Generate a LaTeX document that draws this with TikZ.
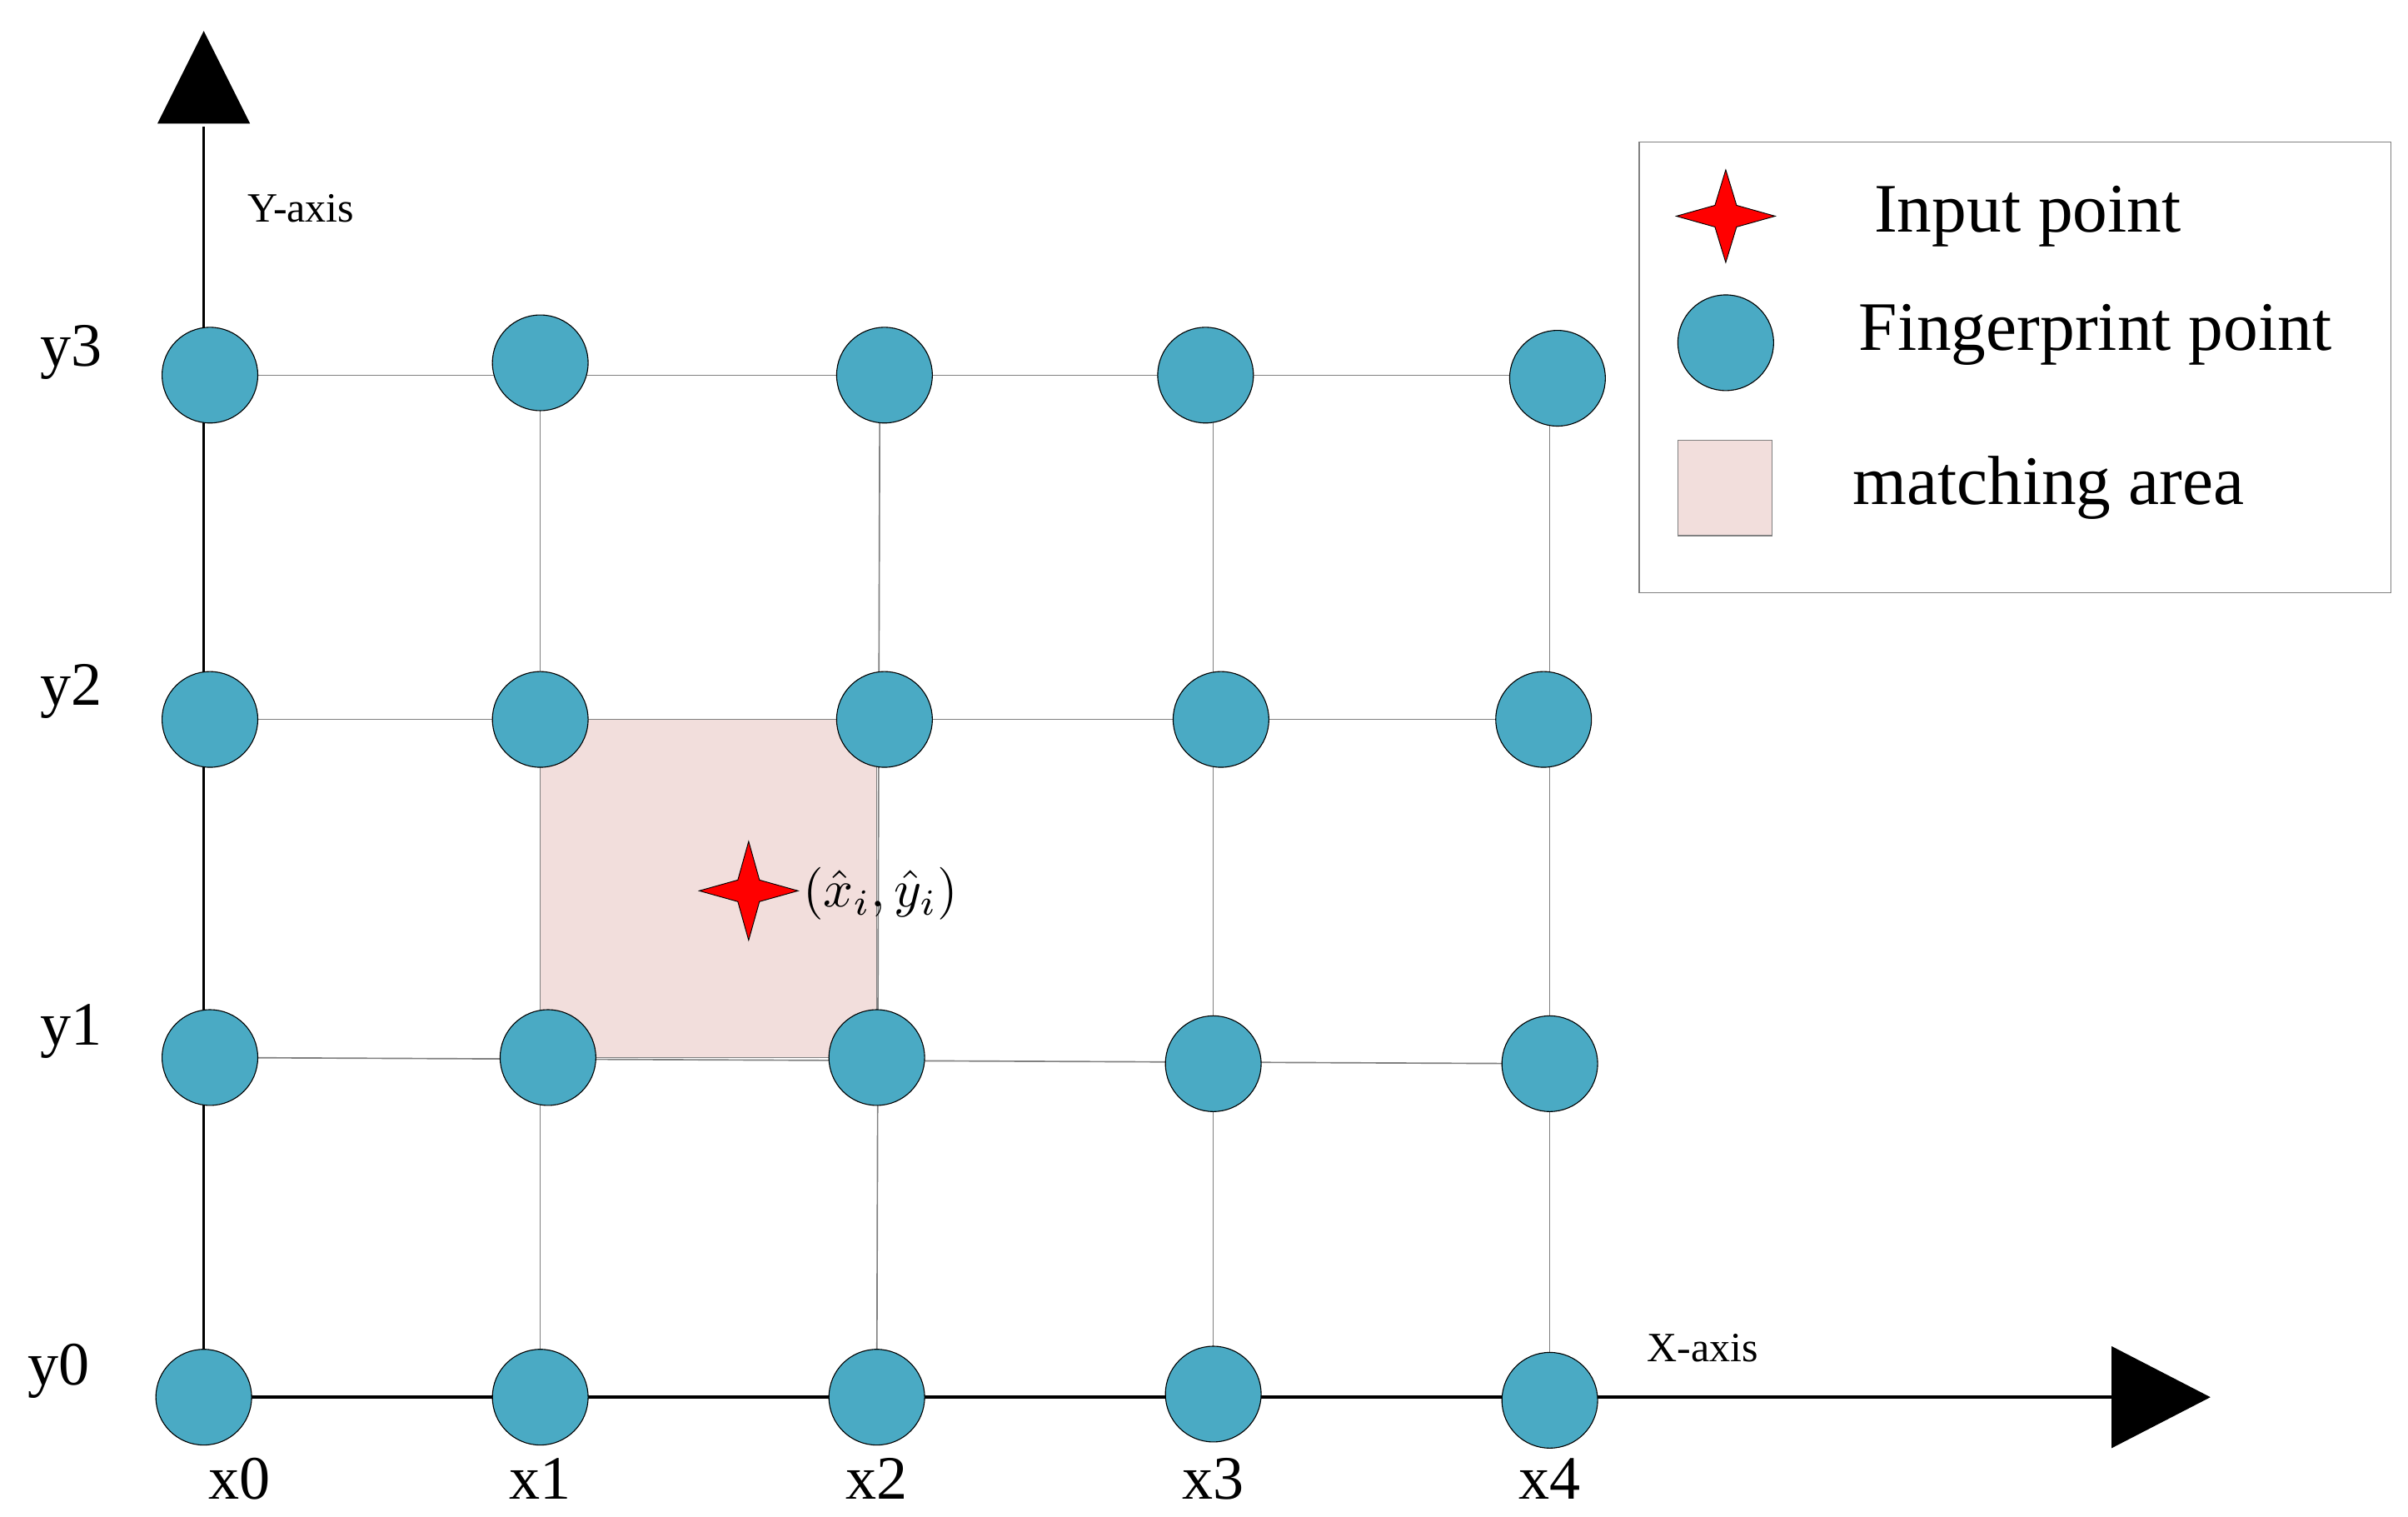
\documentclass[tikz,border=0pt]{standalone}
\usepackage{fontspec}
\setmainfont{Liberation Serif}
\begin{document}
\begin{tikzpicture}[x=1pt,y=-1pt,
  fp/.style={circle,draw=black,line width=0.6pt,fill={rgb,255:red,74;green,170;blue,196},minimum size=62pt,inner sep=0},
  grid/.style={draw=gray,line width=0.9pt},
  ax/.style={draw=black,line width=2pt},
  lbl/.style={font=\fontsize{40}{42}\selectfont},
  leg/.style={font=\fontsize{45}{48}\selectfont},
  small/.style={font=\fontsize{27}{30}\selectfont},
  area/.style={fill={rgb,255:red,242;green,222;blue,220},draw=gray,line width=0.7pt}]
\useasboundingbox (0,0) rectangle (1560,982.6);
% matching area
\path[area] (350,466) rectangle (568,685);
% grid lines
\draw[grid] (136,243) -- (1009,243);
\draw[grid] (136,466) -- (1000,466);
\draw[grid] (136,685) -- (1004,689);
\draw[grid] (350,235) -- (350,905);
\draw[grid] (570,243) -- (568,905);
\draw[grid] (786,243) -- (786,903);
\draw[grid] (1004,245) -- (1004,907);
% axes
\coordinate (o) at (132,905);
\coordinate (ytip) at (132,82);
\coordinate (xtip) at (1370,905);
\draw[ax] (o) -- (ytip);
\draw[ax] (o) -- (xtip);
\fill (132,20) -- (102,80) -- (162,80) -- cycle;
\fill (1432,905) -- (1368,872) -- (1368,938) -- cycle;
% fingerprint points
\node[fp] (a3) at (136,243) {}; \node[fp] (b3) at (350,235) {}; \node[fp] (c3) at (573,243) {}; \node[fp] (d3) at (781,243) {}; \node[fp] (e3) at (1009,245) {};
\node[fp] (a2) at (136,466) {}; \node[fp] (b2) at (350,466) {}; \node[fp] (c2) at (573,466) {}; \node[fp] (d2) at (791,466) {}; \node[fp] (e2) at (1000,466) {};
\node[fp] (a1) at (136,685) {}; \node[fp] (b1) at (355,685) {}; \node[fp] (c1) at (568,685) {}; \node[fp] (d1) at (786,689) {}; \node[fp] (e1) at (1004,689) {};
\node[fp] (a0) at (132,905) {}; \node[fp] (b0) at (350,905) {}; \node[fp] (c0) at (568,905) {}; \node[fp] (d0) at (786,903) {}; \node[fp] (e0) at (1004,907) {};
% star
\fill[red,draw=black,line width=0.5pt] (485,545) -- (492,570) -- (517,577) -- (492,584) -- (485,609) -- (478,584) -- (453,577) -- (478,570) -- cycle;
\node[anchor=west,inner sep=0] (pt) at (520,579) {\scalebox{3.4}{$(\hat{x}_i,\hat{y}_i)$}};
% labels
\node[small] (yl) at (195,135) {Y-axis};
\node[small] (xl) at (1103,873) {X-axis};
\node[lbl] at (46,228) {y3};
\node[lbl] at (46,448) {y2};
\node[lbl] at (46,668) {y1};
\node[lbl] at (38,888) {y0};
\node[lbl] at (155,958) {x0};
\node[lbl] at (350,958) {x1};
\node[lbl] at (568,958) {x2};
\node[lbl] at (786,958) {x3};
\node[lbl] at (1004,958) {x4};
% legend
\draw[gray,line width=0.8pt,fill=white] (1062,92) rectangle (1549,384);
\fill[red,draw=black,line width=0.5pt] (1118,110) -- (1125,133) -- (1150,140) -- (1125,147) -- (1118,170) -- (1111,147) -- (1086,140) -- (1111,133) -- cycle;
\node[fp] (lc) at (1118,222) {};
\path[area] (1087,285) rectangle (1148,347);
\node[leg,anchor=west,inner sep=0] at (1214,140) {Input point};
\node[leg,anchor=west,inner sep=0] at (1204,217) {Fingerprint point};
\node[leg,anchor=west,inner sep=0] at (1200,316) {matching area};
\end{tikzpicture}
\end{document}
